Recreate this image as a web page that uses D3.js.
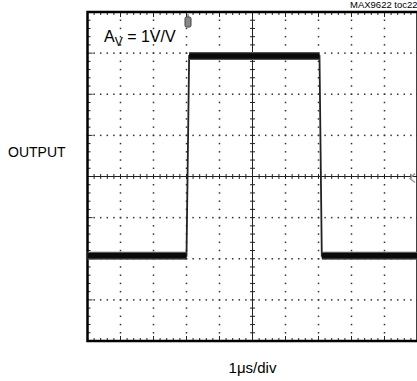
<!DOCTYPE html>
<html>
<head>
<meta charset="utf-8">
<script src="https://cdn.jsdelivr.net/npm/d3@7"></script>
<style>
  body { margin: 0; background: #fff; }
  svg { display: block; font-family: "Liberation Sans", Arial, sans-serif; }
</style>
</head>
<body>
<div class="scope"></div>
<script>
// trace: time in us (1us/div), output level in screen divisions
const timeUs = [0, 3.0, 3.08, 7.03, 7.1, 10];
const outputDiv = [-1.93, -1.93, 2.93, 2.93, -1.93, -1.93];
const xDivs = d3.range(0, 11);
const yDivs = d3.range(-4, 5);

const W = 417, H = 381;

let x = d3.scaleLinear().domain([0, 10]).range([87.5, 417.5]);
let y = d3.scaleLinear().domain([-4, 4]).range([341, 12]);

let svg = d3.select(".scope").append("svg")
  .attr("width", W)
  .attr("height", H);

let minorX = d3.range(0, 50.01, 1).map(d => d / 5);
let minorY = d3.range(-20, 20.01, 1).map(d => d / 5);

let grid = svg.append("g").attr("fill", "#333");

// dotted vertical grid lines
xDivs.filter(d => d > 0 && d < 10 && d !== 5).forEach(d => {
  grid.selectAll(null).data(minorY).enter().append("rect")
    .attr("x", x(d) - 0.75).attr("y", v => y(v) - 0.75)
    .attr("width", 1.5).attr("height", 1.5);
});

// dotted horizontal grid lines
yDivs.filter(d => d > -4 && d < 4 && d !== 0).forEach(d => {
  grid.selectAll(null).data(minorX).enter().append("rect")
    .attr("x", v => x(v) - 0.75).attr("y", y(d) - 0.75)
    .attr("width", 1.5).attr("height", 1.5);
});

// center axes with minor ticks
let axes = svg.append("g").attr("stroke", "#222").attr("stroke-width", 1);
axes.append("line").attr("x1", x(0)).attr("x2", x(10)).attr("y1", y(0)).attr("y2", y(0));
axes.append("line").attr("x1", x(5)).attr("x2", x(5)).attr("y1", y(-4)).attr("y2", y(4));
axes.selectAll(null).data(minorX).enter().append("line")
  .attr("x1", d => x(d)).attr("x2", d => x(d))
  .attr("y1", y(0) - 2.5).attr("y2", y(0) + 2.5);
axes.selectAll(null).data(minorY).enter().append("line")
  .attr("x1", x(5) - 2.5).attr("x2", x(5) + 2.5)
  .attr("y1", d => y(d)).attr("y2", d => y(d));

// frame ticks pointing inward
axes.selectAll(null).data(minorX).enter().append("line")
  .attr("x1", d => x(d)).attr("x2", d => x(d))
  .attr("y1", y(4)).attr("y2", d => y(4) + (d % 1 === 0 ? 5 : 3));
axes.selectAll(null).data(minorX).enter().append("line")
  .attr("x1", d => x(d)).attr("x2", d => x(d))
  .attr("y1", y(-4)).attr("y2", d => y(-4) - (d % 1 === 0 ? 5 : 3));
axes.selectAll(null).data(minorY).enter().append("line")
  .attr("x1", x(0)).attr("x2", d => x(0) + (d % 1 === 0 ? 5 : 3))
  .attr("y1", d => y(d)).attr("y2", d => y(d));

// frame
svg.append("rect")
  .attr("x", x(0)).attr("y", y(4))
  .attr("width", x(10) - x(0)).attr("height", y(-4) - y(4))
  .attr("fill", "none").attr("stroke", "#000").attr("stroke-width", 2.5);

// trace
let pts = timeUs.map((t, i) => ({ t: t, v: outputDiv[i] }));
let line = d3.line().x(d => x(d.t)).y(d => y(d.v));

svg.append("path")
  .datum(pts)
  .attr("d", line)
  .attr("fill", "none").attr("stroke", "#222").attr("stroke-width", 1.8);

let flats = d3.pairs(pts).filter(p => p[0].v === p[1].v);
svg.selectAll(null).data(flats).enter().append("path")
  .attr("d", line)
  .attr("fill", "none").attr("stroke", "#555").attr("stroke-width", 8);
svg.selectAll(null).data(flats).enter().append("path")
  .attr("d", line)
  .attr("fill", "none").attr("stroke", "#0a0a0a").attr("stroke-width", 5.5);

// trigger marker
let tx = x(timeUs[1]) + 1.5;
svg.append("rect")
  .attr("x", tx - 3).attr("y", y(4) + 5)
  .attr("width", 6).attr("height", 10).attr("rx", 1.5)
  .attr("fill", "#888").attr("stroke", "#444").attr("stroke-width", 1);
svg.append("line")
  .attr("x1", tx).attr("x2", tx).attr("y1", y(4) + 2).attr("y2", y(4) + 5)
  .attr("stroke", "#444");

// ground marker at right edge
svg.append("path")
  .attr("d", `M${W - 2},${y(0) - 3} L${W - 7},${y(0) + 2} L${W - 2},${y(0) + 6}`)
  .attr("fill", "none").attr("stroke", "#999").attr("stroke-width", 1.5);

// texts
let av = svg.append("text")
  .attr("x", 104).attr("y", 42)
  .attr("font-size", 16).attr("fill", "#000");
av.append("tspan").text("A");
av.append("tspan").attr("dy", 4).attr("font-size", 12).text("V");
av.append("tspan").attr("dy", -4).text(" = 1V/V");

svg.append("text")
  .attr("x", 350).attr("y", 8)
  .attr("font-size", 9.5).attr("fill", "#000")
  .text("MAX9622 toc22");

svg.append("text")
  .attr("x", 8).attr("y", 157)
  .attr("font-size", 14).attr("fill", "#000")
  .text("OUTPUT");

svg.append("text")
  .attr("x", x(5)).attr("y", 373)
  .attr("text-anchor", "middle")
  .attr("font-size", 15).attr("fill", "#000")
  .text("1\u03bcs/div");
</script>
</body>
</html>
